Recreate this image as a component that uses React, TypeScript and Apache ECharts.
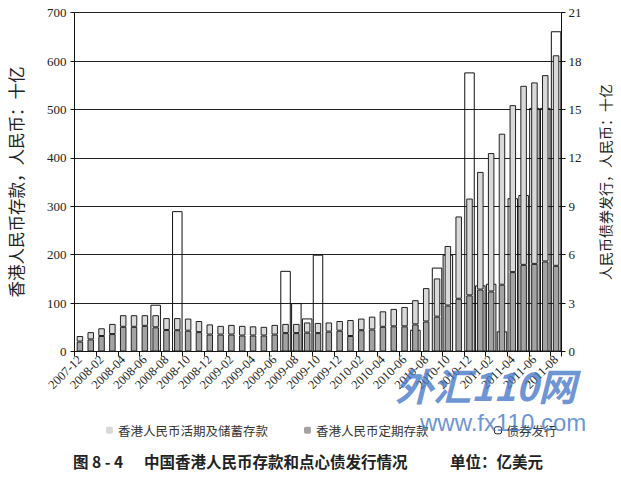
import React, { useEffect, useRef } from "react";
import * as echarts from "echarts";

const months = [
  "2007-12", "2008-01", "2008-02", "2008-03", "2008-04", "2008-05", "2008-06", "2008-07", "2008-08", "2008-09", "2008-10", "2008-11", "2008-12",
  "2009-01", "2009-02", "2009-03", "2009-04", "2009-05", "2009-06", "2009-07", "2009-08", "2009-09", "2009-10", "2009-11", "2009-12",
  "2010-01", "2010-02", "2010-03", "2010-04", "2010-05", "2010-06", "2010-07", "2010-08", "2010-09", "2010-10", "2010-11", "2010-12",
  "2011-01", "2011-02", "2011-03", "2011-04", "2011-05", "2011-06", "2011-07", "2011-08",
];

// lower (darker) segment
const timeDeposits = [
  20.5, 25, 32, 36, 51, 51, 53, 50, 44.5, 44, 43, 40, 35, 35, 35, 33, 33, 33, 35, 38, 38, 39, 38, 41,
  43, 32, 44, 45.5, 51, 52, 52, 56, 62, 72, 95, 109, 116, 128, 124, 138, 164, 179, 181, 186, 177,
];

// upper (lighter) segment
const demandSavings = [
  11.5, 15, 16, 21, 24, 24, 22, 25, 24.5, 25, 25, 23, 21, 18, 20, 20, 19, 18, 20, 19, 19, 21, 21, 19,
  20, 33, 24, 26.5, 32, 36, 40, 50, 69, 79, 123, 170, 200, 243, 286, 312, 345, 370, 375, 385, 435,
];

// bond issuance, right axis (RMB bn)
const bonds = [
  null, null, null, null, null, null, null, 2.9, null, 8.7, null, null, null,
  null, null, null, null, null, null, 5.0, 3.0, 2.05, 6.0, null, null,
  null, null, null, null, null, null, 1.35, null, 5.2, 6.0, null, 17.3,
  4.1, 4.2, 1.25, 9.5, 9.7, 15.1, 15.1, 19.85,
];

const NAME_DEMAND = "香港人民币活期及储蓄存款";
const NAME_TIME = "香港人民币定期存款";
const NAME_BOND = "债券发行";

export default function App() {
  const ref = useRef<HTMLDivElement>(null);

  useEffect(() => {
    if (!ref.current) return;
    const chart = echarts.init(ref.current, null, { renderer: "svg" });
    const serif = "'Liberation Serif', 'DejaVu Serif', serif";
    const cjk = "'Noto Sans CJK SC', sans-serif";
    const legendBase = {
      top: 419,
      itemWidth: 7,
      itemHeight: 7,
      itemGap: 6,
      textStyle: { fontFamily: cjk, fontSize: 12.5, color: "#333" },
    };
    const titleStyle = { fontFamily: cjk, fontSize: 15.5, fontWeight: "bold", fill: "#222" };
    chart.setOption({
      animation: false,
      backgroundColor: "#ffffff",
      grid: { left: 69.5, right: 59.5, top: 12.7, bottom: 125.5, containLabel: false },
      legend: [
        { ...legendBase, left: 101, data: [{ name: NAME_DEMAND, itemStyle: { borderWidth: 0 } }] },
        { ...legendBase, left: 299, data: [{ name: NAME_TIME, itemStyle: { borderWidth: 0 } }] },
        {
          ...legendBase,
          left: 489,
          data: [{ name: NAME_BOND, itemStyle: { color: "#ffffff", borderColor: "#222", borderWidth: 1 } }],
        },
      ],
      xAxis: [
        {
          type: "category",
          data: months,
          boundaryGap: true,
          axisLine: { show: true, lineStyle: { color: "#111", width: 1 } },
          axisTick: { show: true, interval: 1, length: 5, lineStyle: { color: "#111" } },
          axisLabel: {
            interval: 1,
            rotate: 45,
            margin: 6,
            fontFamily: serif,
            fontSize: 12.5,
            color: "#222",
          },
          splitLine: { show: false },
        },
        {
          type: "category",
          data: months,
          boundaryGap: true,
          show: false,
        },
      ],
      yAxis: [
        {
          type: "value",
          min: 0,
          max: 700,
          interval: 100,
          name: "香港人民币存款，人民币：十亿",
          nameLocation: "middle",
          nameRotate: 90,
          nameGap: 50,
          nameTextStyle: { fontFamily: cjk, fontSize: 16.5, color: "#222" },
          axisLine: { show: true, lineStyle: { color: "#111", width: 1 } },
          axisTick: { show: true, length: 4, lineStyle: { color: "#111" } },
          axisLabel: { fontFamily: serif, fontSize: 13, color: "#222", margin: 8 },
          splitLine: { show: true, lineStyle: { color: "#222", width: 1 } },
        },
        {
          type: "value",
          min: 0,
          max: 21,
          interval: 3,
          name: "人民币债券发行，人民币：十亿",
          nameLocation: "middle",
          nameRotate: 90,
          nameGap: 36,
          nameTextStyle: { fontFamily: cjk, fontSize: 14, color: "#222" },
          axisLine: { show: true, lineStyle: { color: "#111", width: 1 } },
          axisTick: { show: true, length: 4, lineStyle: { color: "#111" } },
          axisLabel: { fontFamily: serif, fontSize: 13, color: "#222", margin: 7 },
          splitLine: { show: false },
        },
      ],
      series: [
        {
          name: NAME_BOND,
          type: "bar",
          xAxisIndex: 1,
          yAxisIndex: 1,
          barWidth: 10.5,
          z: 1,
          data: bonds,
          itemStyle: { color: "rgba(255,255,255,0)", borderColor: "#111", borderWidth: 1 },
        },
        {
          name: NAME_TIME,
          type: "bar",
          stack: "dep",
          xAxisIndex: 0,
          yAxisIndex: 0,
          barWidth: 6.5,
          z: 3,
          data: timeDeposits,
          itemStyle: { color: "#a3a3a3", borderColor: "#222", borderWidth: 1 },
        },
        {
          name: NAME_DEMAND,
          type: "bar",
          stack: "dep",
          xAxisIndex: 0,
          yAxisIndex: 0,
          barWidth: 6.5,
          z: 3,
          data: demandSavings,
          itemStyle: { color: "#d9d9d9", borderColor: "#222", borderWidth: 1 },
        },
      ],
      graphic: [
        { type: "text", left: 73, top: 453, style: { ...titleStyle, text: "图 8 - 4" } },
        { type: "text", left: 144, top: 453, style: { ...titleStyle, text: "中国香港人民币存款和点心债发行情况" } },
        { type: "text", left: 450, top: 453, style: { ...titleStyle, text: "单位：亿美元" } },
        {
          type: "text",
          left: 395,
          top: 365,
          z: 100,
          style: {
            text: "外汇110网",
            fontFamily: cjk,
            fontSize: 38,
            fontWeight: "bold",
            fontStyle: "italic",
            fill: "rgba(70,120,200,0.8)",
          },
        },
        {
          type: "text",
          left: 420,
          top: 410,
          z: 100,
          style: {
            text: "www.fx110.com",
            fontFamily: "'Liberation Sans', Arial, sans-serif",
            fontSize: 24,
            fill: "rgba(70,120,200,0.8)",
          },
        },
      ],
    });
    return () => chart.dispose();
  }, []);

  return (
    <div
      ref={ref}
      style={{ position: "fixed", left: 0, top: 0, width: 621, height: 477, background: "#fff" }}
    />
  );
}
